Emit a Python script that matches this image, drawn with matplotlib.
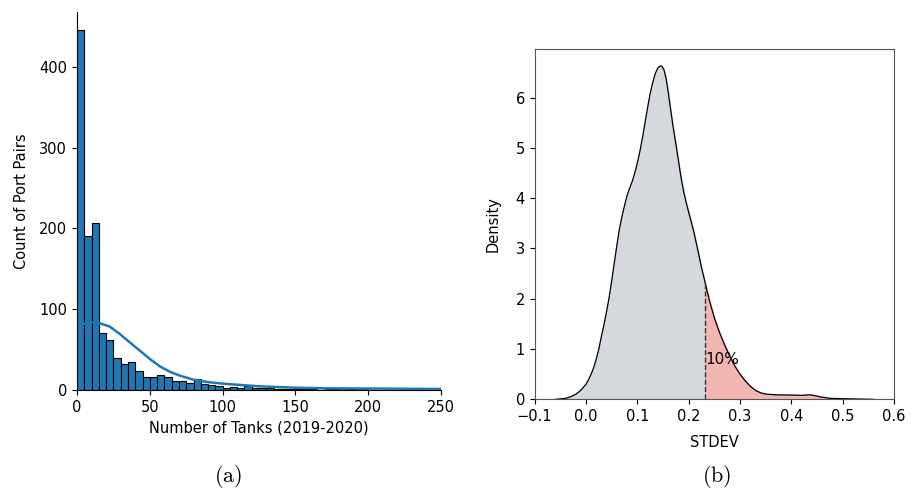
import matplotlib

matplotlib.use("Agg")
import matplotlib.pyplot as plt
import numpy as np

plt.rcParams["mathtext.fontset"] = "cm"

# (a) histogram of tank counts, 5-wide bins from 0
bin_width = 5
tank_counts = [
    446, 191, 207, 71, 62, 40, 32, 35, 23, 16,
    16, 19, 16, 11, 11, 9, 13, 7, 6, 5,
    3, 4, 2, 5, 3, 2, 2, 1, 1, 1,
    1, 1, 1, 0, 1, 1, 3, 1, 3, 1,
]
# kde line drawn over the histogram
kde_x = [0, 5, 11, 15.6, 22.4, 29.3, 36.2, 43, 50, 56.8, 63.6, 70.5, 79.7,
         91, 102.6, 125.5, 148, 171, 217, 250]
kde_y = [78.5, 82, 84, 82.6, 78.5, 69.4, 59, 48.8, 38.4, 29.3, 22.7, 17.8,
         12.8, 9.5, 7.4, 4.5, 2.9, 2.0, 1.6, 1.2]

# (b) density of STDEV
stdev_x = [-0.06, -0.05, -0.04, -0.03, -0.02, -0.01, 0.0, 0.005, 0.01, 0.015,
           0.02, 0.025, 0.03, 0.035, 0.04, 0.045, 0.05, 0.055, 0.06, 0.065,
           0.07, 0.075, 0.08, 0.085, 0.09, 0.095, 0.1, 0.105, 0.11, 0.115,
           0.12, 0.125, 0.13, 0.135, 0.14, 0.145, 0.148, 0.152, 0.156, 0.16,
           0.165, 0.17, 0.175, 0.18, 0.185, 0.19, 0.195, 0.2, 0.205, 0.21,
           0.215, 0.22, 0.225, 0.2323, 0.24, 0.25, 0.26, 0.27, 0.28, 0.29,
           0.3, 0.31, 0.32, 0.33, 0.34, 0.35, 0.37, 0.4, 0.42, 0.436,
           0.445, 0.456, 0.475, 0.5, 0.53, 0.56]
stdev_d = [0.0, 0.008, 0.02, 0.05, 0.1, 0.18, 0.3, 0.39, 0.5, 0.63,
           0.8, 1.0, 1.25, 1.48, 1.74, 2.02, 2.35, 2.7, 3.05, 3.38,
           3.63, 3.85, 4.05, 4.2, 4.33, 4.5, 4.7, 4.93, 5.2, 5.5,
           5.8, 6.08, 6.3, 6.48, 6.59, 6.63, 6.62, 6.55, 6.38, 6.12,
           5.75, 5.4, 5.08, 4.75, 4.42, 4.14, 3.92, 3.72, 3.53, 3.33,
           3.1, 2.86, 2.62, 2.31, 1.98, 1.62, 1.33, 1.08, 0.86, 0.66,
           0.5, 0.37, 0.26, 0.18, 0.13, 0.105, 0.09, 0.085, 0.08, 0.09,
           0.075, 0.05, 0.02, 0.012, 0.006, 0.0]
cutoff = 0.2323
cutoff_label = "10%"

fig = plt.figure(figsize=(9.17, 4.93), dpi=100)

# --- (a) ---
ax1 = fig.add_axes([0.084, 0.209, 0.397, 0.767])
edges = np.arange(len(tank_counts)) * bin_width
ax1.bar(edges, tank_counts, width=bin_width, align="edge", color="#1f77b4",
        edgecolor="black", linewidth=0.8)
ax1.plot(kde_x, kde_y, color="#1f77b4", lw=1.8)
ax1.set_xlim(0, 250)
ax1.set_ylim(0, 468)
ax1.set_yticks([0, 100, 200, 300, 400])
ax1.spines[["top", "right"]].set_visible(False)
ax1.tick_params(labelsize=10.5)
ax1.set_xlabel("Number of Tanks (2019-2020)", fontsize=10.5)
ax1.set_ylabel("Count of Port Pairs", fontsize=10.5, labelpad=7)

# --- (b) ---
ax2 = fig.add_axes([0.583, 0.190, 0.392, 0.710])
sx = np.array(stdev_x)
sd = np.array(stdev_d)
left = sx <= cutoff
right = sx >= cutoff
ax2.fill_between(sx[left], 0, sd[left], color="#d5d8dc")
ax2.fill_between(sx[right], 0, sd[right], color="#f4b6b0")
ax2.plot(sx, sd, color="black", lw=0.9)
ax2.plot([cutoff, cutoff], [0, sd[list(sx).index(cutoff)]], color="#333333",
         lw=1.0, ls="--")
ax2.text(cutoff, 0.8, cutoff_label, fontsize=11, va="center", ha="left")
ax2.set_xlim(-0.1, 0.6)
ax2.set_ylim(0, 6.96)
for s in ax2.spines.values():
    s.set_color("#555555")
ax2.tick_params(labelsize=10.5)
ax2.set_xlabel("STDEV", fontsize=10.5, labelpad=8)
ax2.set_ylabel("Density", fontsize=10.5, labelpad=11)

fig.text(0.249, 0.023, r"$\mathrm{(a)}$", fontsize=16, ha="center")
fig.text(0.782, 0.023, r"$\mathrm{(b)}$", fontsize=16, ha="center")

fig.savefig("out.png", dpi=100)
